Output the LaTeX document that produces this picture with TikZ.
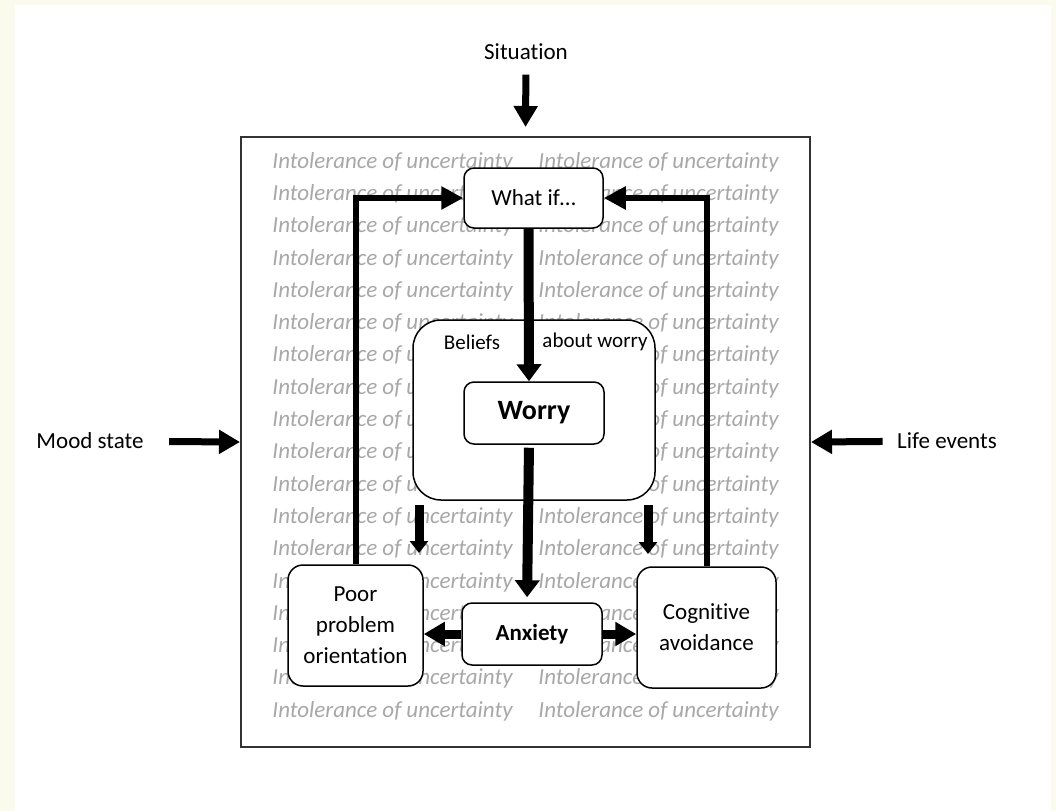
\documentclass[tikz,border=0pt]{standalone}
\usepackage{fontspec}
\setmainfont{Carlito}[Ligatures=NoCommon]
\usepackage{tikz}
\usetikzlibrary{positioning,arrows.meta}

\definecolor{cream}{RGB}{250,251,236}
\definecolor{iugray}{RGB}{168,168,168}

\begin{document}
\begin{tikzpicture}[
    x=1pt, y=-1pt,
    box/.style={draw, rounded corners=10pt, fill=white, line width=1.5pt, align=center,
                inner sep=2pt, font=\fontsize{23}{31}\selectfont},
    frame/.style={draw=black!80, line width=2pt, minimum width=569pt, minimum height=610pt},
    plain/.style={font=\fontsize{23}{28}\selectfont},
    iutext/.style={font=\fontsize{23}{28}\selectfont\itshape, text=iugray},
    mainarrow/.style={line width=10pt, -{Triangle[length=17pt,width=24pt]}},
    sidearrow/.style={line width=7pt, -{Triangle[length=21pt,width=23pt]}},
    smallarrow/.style={line width=9pt, -{Triangle[length=12pt,width=18pt]}},
    feedback/.style={line width=6pt, -{Triangle[length=22pt,width=22pt]}}
]
    % page
    \fill[cream] (0,0) rectangle (1056,811);
    \fill[white] (15,5) rectangle (1051,811);
    \useasboundingbox (0,0) rectangle (1056,811);

    \node[frame] (frame) at (525.5,442) {};
    \foreach \r in {0,...,17} {
        \node[iutext] (iul\r) at (392.5,162+32.3*\r) {Intolerance of uncertainty};
        \node[iutext] (iur\r) at (658.5,162+32.3*\r) {Intolerance of uncertainty};
    }

    \node[plain] (sit) at (526,52) {Situation};
    \node[plain] (mood) at (90,441) {Mood state};
    \node[plain] (life) at (947,441) {Life events};

    \node[box, minimum width=139pt, minimum height=60pt] (whatif) at (533.5,198) {What if…};
    \node[box, rounded corners=28pt, minimum width=242pt, minimum height=180pt] (beliefs) at (534,410) {};
    \node[font=\fontsize{21}{24}\selectfont] (bel1) at (472,342) {Beliefs};
    \node[font=\fontsize{21}{24}\selectfont] (bel2) at (595,342) {about worry};
    \node[box, font=\fontsize{28}{32}\selectfont\bfseries,
          minimum width=140pt, minimum height=62pt] (worry) at (534,413) {Worry};
    \node[box, font=\fontsize{23}{28}\selectfont\bfseries,
          minimum width=140pt, minimum height=62pt] (anx) at (532,634) {Anxiety};
    \node[box, rounded corners=15pt, minimum width=135pt, minimum height=121pt] (poor)
        at (355.5,625.5) {Poor\\problem\\orientation};
    \node[box, rounded corners=15pt, minimum width=139pt, minimum height=121pt] (cog)
        at (706.5,627.5) {Cognitive\\avoidance};

    \coordinate (ltop) at (419,505);
    \coordinate (lend) at (419,553);
    \coordinate (rtop) at (648,505);
    \coordinate (rend) at (648,554);

    % outside influences
    \draw[sidearrow, shorten <=11pt, shorten >=9pt] (sit) -- (frame.north);
    \draw[sidearrow, shorten <=22pt] (mood) -- (frame.west);
    \draw[sidearrow, shorten <=11pt] (life) -- (frame.east);

    % worry cycle
    \draw[mainarrow] ([xshift=-5pt]whatif.south) -- ([xshift=-5pt]worry.north);
    \draw[mainarrow, shorten <=3pt, shorten >=5pt] ([xshift=-5pt]worry.south) -- ([xshift=-5pt]anx.north);
    \draw[sidearrow, line width=9pt] (anx.west) -- (anx.west -| poor.east);
    \draw[sidearrow, line width=9pt] (anx.east) -- (anx.east -| cog.west);
    \draw[feedback] (poor.north) |- (whatif.west);
    \draw[feedback] (cog.north) |- (whatif.east);
    \draw[smallarrow] (ltop) -- (lend);
    \draw[smallarrow] (rtop) -- (rend);
\end{tikzpicture}
\end{document}
